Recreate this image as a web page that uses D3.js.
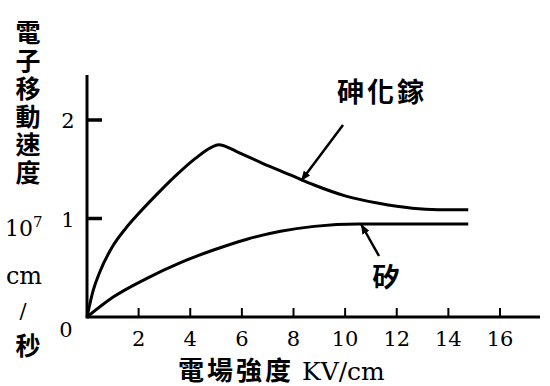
<!DOCTYPE html>
<html><head><meta charset="utf-8">
<script src="https://cdn.jsdelivr.net/npm/d3@7"></script>
<style>
html,body{margin:0;padding:0;background:#fff;}
svg{display:block;}
</style></head>
<body>
<svg id="chart" width="550" height="386"></svg>
<script>
// Data
const xTicks = [2, 4, 6, 8, 10, 12, 14, 16];
const yTicks = [1, 2];
const gaasX = [0, 0.24, 0.5, 1.0, 1.5, 2.0, 2.8, 3.5, 4.2, 4.8, 5.1, 5.8, 6.8, 7.9, 8.8, 10.0, 11.3, 12.6, 13.6, 14.77];
const gaasY = [0, 0.27, 0.46, 0.72, 0.90, 1.05, 1.27, 1.45, 1.61, 1.72, 1.75, 1.68, 1.56, 1.44, 1.34, 1.23, 1.155, 1.105, 1.09, 1.088];
const siX = [0, 1.0, 2.3, 3.6, 4.9, 6.2, 7.5, 8.8, 10.5, 14.77];
const siY = [0, 0.2, 0.39, 0.55, 0.68, 0.79, 0.87, 0.92, 0.945, 0.945];
const yLabel = "電子移動速度";
const xLabelCJK = "電場強度";
const xLabelUnit = " KV/cm";
const gaasLabel = "砷化鎵";
const siLabel = "矽";

const svg = d3.select("#chart");
const x = d3.scaleLinear().domain([0, 16]).range([87, 500]);
const y = d3.scaleLinear().domain([0, 2]).range([317, 120]);
const cjk = "'Noto Sans CJK TC','Noto Sans CJK JP',sans-serif";
const serif = "'DejaVu Serif','Liberation Serif',serif";

// axes lines
svg.append("line").attr("x1", x(0)).attr("x2", x(17.55)).attr("y1", y(0)).attr("y2", y(0))
  .attr("stroke", "#000").attr("stroke-width", 3);
svg.append("line").attr("x1", x(0)).attr("x2", x(0)).attr("y1", y(0) + 1.5).attr("y2", 75)
  .attr("stroke", "#000").attr("stroke-width", 3);

// x ticks
const gx = svg.append("g");
xTicks.forEach(t => {
  gx.append("line").attr("x1", x(t)).attr("x2", x(t)).attr("y1", y(0)).attr("y2", y(0) - 9)
    .attr("stroke", "#000").attr("stroke-width", 2);
  gx.append("text").attr("x", x(t)).attr("y", 346).attr("text-anchor", "middle")
    .attr("font-family", serif).attr("font-size", 21).text(t);
});
svg.append("text").attr("x", 66).attr("y", 337).attr("text-anchor", "middle")
  .attr("font-family", serif).attr("font-size", 21).text("0");

// y ticks
yTicks.forEach(t => {
  svg.append("line").attr("x1", x(0)).attr("x2", x(0) + 15).attr("y1", y(t)).attr("y2", y(t))
    .attr("stroke", "#000").attr("stroke-width", 3.5);
  svg.append("text").attr("x", 68).attr("y", y(t) + 8).attr("text-anchor", "middle")
    .attr("font-family", serif).attr("font-size", 21).text(t);
});

// curves
const line = d3.line().x(d => x(d[0])).y(d => y(d[1])).curve(d3.curveMonotoneX);
svg.append("path").datum(gaasX.map((v, i) => [v, gaasY[i]])).attr("d", line)
  .attr("fill", "none").attr("stroke", "#000").attr("stroke-width", 3).attr("stroke-linejoin", "round");
svg.append("path").datum(siX.map((v, i) => [v, siY[i]])).attr("d", line)
  .attr("fill", "none").attr("stroke", "#000").attr("stroke-width", 3).attr("stroke-linejoin", "round");

// arrows
svg.append("defs").append("marker").attr("id", "ah").attr("viewBox", "0 0 10 8")
  .attr("refX", 10).attr("refY", 4).attr("markerWidth", 10).attr("markerHeight", 8)
  .attr("markerUnits", "userSpaceOnUse").attr("orient", "auto")
  .append("path").attr("d", "M0,0 L10,4 L0,8 Z").attr("fill", "#000");
svg.append("line").attr("x1", 343).attr("y1", 125).attr("x2", 301).attr("y2", 181)
  .attr("stroke", "#000").attr("stroke-width", 2.5).attr("marker-end", "url(#ah)");
svg.append("line").attr("x1", 379).attr("y1", 256).attr("x2", 361).attr("y2", 224)
  .attr("stroke", "#000").attr("stroke-width", 2.5).attr("marker-end", "url(#ah)");

// annotation labels
svg.append("text").attr("x", 382).attr("y", 102).attr("text-anchor", "middle")
  .attr("font-family", cjk).attr("font-weight", 700).attr("font-size", 27)
  .attr("letter-spacing", 3).text(gaasLabel);
svg.append("text").attr("x", 386).attr("y", 287).attr("text-anchor", "middle")
  .attr("font-family", cjk).attr("font-weight", 700).attr("font-size", 27).text(siLabel);

// x axis label
const xl = svg.append("text").attr("x", 178).attr("y", 380);
xl.append("tspan").attr("font-family", cjk).attr("font-weight", 700).attr("font-size", 26)
  .attr("letter-spacing", 3).text(xLabelCJK);
xl.append("tspan").attr("font-family", serif).attr("font-size", 25).text(xLabelUnit);

// y axis label, vertical writing
svg.append("text").attr("x", 28).attr("y", 20)
  .style("writing-mode", "vertical-rl")
  .attr("font-family", cjk).attr("font-weight", 700).attr("font-size", 25)
  .attr("letter-spacing", 3).text(yLabel);
const p = svg.append("text").attr("x", 5).attr("y", 236).attr("font-family", serif).attr("font-size", 22);
p.append("tspan").text("10");
p.append("tspan").attr("font-size", 15).attr("dy", -9).text("7");
svg.append("text").attr("x", 24).attr("y", 284).attr("text-anchor", "middle")
  .attr("font-family", serif).attr("font-size", 24).text("cm");
svg.append("text").attr("x", 23).attr("y", 318).attr("text-anchor", "middle")
  .attr("font-family", serif).attr("font-size", 21).text("/");
svg.append("text").attr("x", 28).attr("y", 355).attr("text-anchor", "middle")
  .attr("font-family", cjk).attr("font-weight", 700).attr("font-size", 25).text("秒");
</script>
</body></html>
